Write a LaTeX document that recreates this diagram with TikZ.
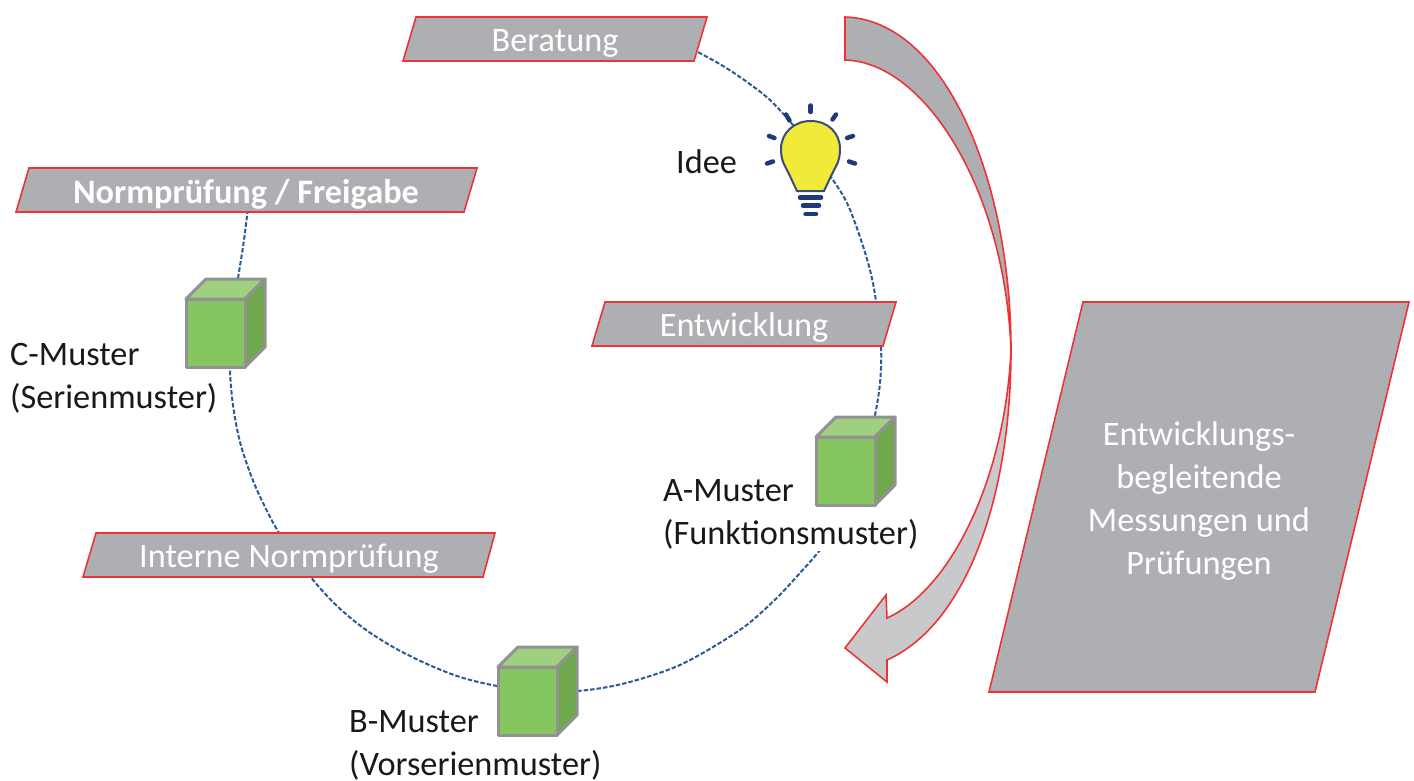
\documentclass[tikz,border=0pt]{standalone}
\usepackage{fontspec}
\setmainfont{Carlito}
\definecolor{bandgray}{HTML}{AEAFB2}
\definecolor{lightgray2}{HTML}{C8C9CB}
\definecolor{redline}{HTML}{EE3338}
\definecolor{dashblue}{HTML}{2A5A96}
\definecolor{navy}{HTML}{1F3A78}
\definecolor{bulbline}{HTML}{3A4C78}
\definecolor{bulby}{HTML}{F2EA3A}
\definecolor{cubefront}{HTML}{86C661}
\definecolor{cubetop}{HTML}{9FD07F}
\definecolor{cubeside}{HTML}{6FA84D}
\definecolor{cubeline}{HTML}{929292}
\tikzset{
  band/.style={draw=redline,fill=bandgray,line width=1.6pt,line join=miter},
  bandtext/.style={text=white,font=\fontsize{34.3}{40}\selectfont,inner sep=0pt},
  blacktext/.style={text=black!90,font=\fontsize{34.3}{43}\selectfont,align=left,inner sep=2pt,fill=white},
  ray/.style={draw=navy,line width=4.5pt,line cap=round},
  cubeedge/.style={draw=cubeline,line width=3pt,line join=round},
  ringline/.style={draw=dashblue,line width=2pt,dash pattern=on 4.5pt off 2pt}
}
\newcommand{\mycube}[2]{%
  \filldraw[cubeedge,fill=cubetop] (#1,#2) -- ++(20,-20) -- ++(59,0) -- ++(-20,20) -- cycle;
  \filldraw[cubeedge,fill=cubeside] (#1+59,#2) -- ++(20,-20) -- ++(0,68) -- ++(-20,20) -- cycle;
  \filldraw[cubeedge,fill=cubefront] (#1,#2) rectangle ++(59,68);
}
\begin{document}
\begin{tikzpicture}[x=1pt,y=-1pt]
\useasboundingbox (0,0) rectangle (1414,781);
% ring
\draw[ringline] plot[smooth,tension=0.55] coordinates {(250,190)(244,240)(237,285)(232,325)(230,368)(233,405)(240,442)(252,478)(265,507)(281,536)(310.7,577)(335,604)(362,627)(393,647)(427,664)(460,677)(497,686)(537,691)(577,691)(613,686)(647,677)(680,665)(713,647)(746.7,625)(776.7,598)(800,573)(820.7,549)(836,524)(850,497)(863,460)(874,420)(880,383)(881,346)(876,301)(870,270)(860,237)(847,203)(831,177)(812,150)(793,125)(770,100)(747,82)(723,66)(699,52.7)(680,44)};
% text over ring
\node[blacktext,anchor=west] (lA) at (661,514) {A-Muster\\(Funktionsmuster)};
\node[blacktext,anchor=west] (lC) at (8,378) {C-Muster\\(Serienmuster)};
\node[blacktext,anchor=west] (lB) at (347,745) {B-Muster\\(Vorserienmuster)};
\node[blacktext,anchor=west,fill=none] (lI) at (674,162) {Idee};
% bands
\draw[band] (403,61) -- (416,17) -- (707,17) -- (694,61) -- cycle;
\node[bandtext] (t1) at (555,43) {Beratung};
\draw[band] (16,212) -- (29,168) -- (477,168) -- (464,212) -- cycle;
\node[bandtext,font=\fontsize{34.3}{40}\selectfont\bfseries] (t2) at (246,194) {Normprüfung / Freigabe};
\draw[band] (592,346) -- (605,302) -- (896,302) -- (883,346) -- cycle;
\node[bandtext] (t3) at (744,328) {Entwicklung};
\draw[band] (83,577) -- (96,533) -- (495,533) -- (483,577) -- cycle;
\node[bandtext] (t4) at (289,559) {Interne Normprüfung};
\draw[band] (989,692) -- (1083,302) -- (1409,302) -- (1315,692) -- cycle;
\node[bandtext,align=center,font=\fontsize{34.3}{42.7}\selectfont] (t5) at (1199,501) {Entwicklungs-\\begleitende\\Messungen und\\Prüfungen};
% curved arrow
\draw[band,fill=bandgray] (845,17) .. controls (945,20) and (1011,180) .. (1011,350) .. controls (1005,190) and (925,62) .. (845,60) -- cycle;
\draw[band,fill=lightgray2] (1011,350) .. controls (1011,500) and (965,625) .. (887,660) -- (887,682) -- (845,648) -- (886,595) -- (887,618) .. controls (950,590) and (1005,480) .. (1011,350) -- cycle;
% cubes
\mycube{816}{437}
\mycube{186}{299}
\mycube{498}{667}
% bulb
\draw[bulbline,line width=2pt,fill=bulby] (797,191) -- (788,172) .. controls (785,166) and (781,161) .. (781,149) .. controls (781,133) and (794,121) .. (810.7,121) .. controls (828,121) and (840,133) .. (840,149) .. controls (840,161) and (836,166) .. (833,172) -- (824,191) -- cycle;
\draw[ray] (800,197.5) -- (821,197.5);
\draw[ray] (803,205.5) -- (819,205.5);
\draw[ray] (805.5,214) -- (816,214);
\draw[ray] (810.7,105.5) -- (810.7,112);
\draw[ray] (786,114.5) -- (789.5,120.5);
\draw[ray] (836,114.5) -- (832.5,119.5);
\draw[ray] (769,136) -- (774.5,138);
\draw[ray] (853,136) -- (847,138);
\draw[ray] (767,163.5) -- (773,161.5);
\draw[ray] (855,163.5) -- (849,161.5);
\end{tikzpicture}
\end{document}
